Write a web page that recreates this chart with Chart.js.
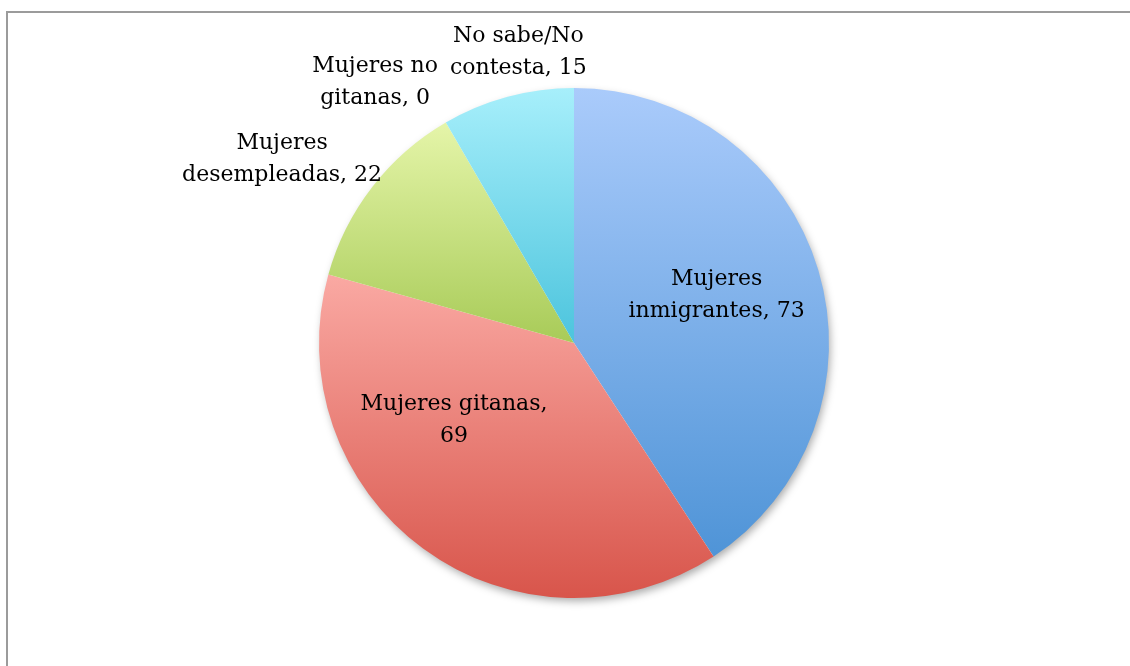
<!DOCTYPE html>
<html lang="es">
<head>
<meta charset="utf-8">
<title>Mujeres - gráfico circular</title>
<script src="https://cdn.jsdelivr.net/npm/chart.js@4/dist/chart.umd.min.js"></script>
<style>
    html, body { margin: 0; padding: 0; background: #fff; overflow: hidden; }
    #wrap { position: relative; width: 1130px; height: 666px; }
    #frame {
        position: absolute; left: 6px; top: 11px; width: 1300px; height: 800px;
        border-left: 2px solid #9b9b9b; border-top: 2px solid #9b9b9b;
    }
    canvas { position: absolute; left: 0; top: 0; }
</style>
</head>
<body>
<div id="wrap">
    <div id="frame"></div>
    <canvas id="pieChart" width="1130" height="666"></canvas>
</div>
<script>
// Datos del gráfico
const categories = ['Mujeres inmigrantes', 'Mujeres gitanas', 'Mujeres desempleadas', 'Mujeres no gitanas', 'No sabe/No contesta'];
const values = [73, 69, 22, 0, 15];

// Colores del degradado de cada sector (arriba / abajo)
const topColors = ['#aacbfb', '#faa9a3', '#e5f5a9', '#dddddd', '#a7effb'];
const bottomColors = ['#4f94d7', '#d8554b', '#a8cb58', '#aaaaaa', '#4cc4dd'];

function sumOf(arr) {
    return arr.reduce((s, v) => s + v, 0);
}

// Degradado vertical sobre el alto de cada sector
function sliceGradient(context) {
    const chart = context.chart;
    const area = chart.chartArea;
    const i = context.dataIndex;
    if (!area || i === undefined) return bottomColors[i] || '#ccc';

    const cx = (area.left + area.right) / 2;
    const cy = (area.top + area.bottom) / 2;
    const r = Math.min(area.width, area.height) / 2;
    const total = sumOf(values);
    const a0 = -Math.PI / 2 + sumOf(values.slice(0, i)) / total * 2 * Math.PI;
    const a1 = a0 + values[i] / total * 2 * Math.PI;

    const ys = [cy, cy + r * Math.sin(a0), cy + r * Math.sin(a1)];
    [Math.PI / 2, 3 * Math.PI / 2].forEach(k => {
        if (k > a0 && k < a1) ys.push(cy + r * Math.sin(k));
    });
    const y0 = Math.min(...ys);
    const y1 = Math.max(...ys);
    if (y1 - y0 < 1) return bottomColors[i];

    const g = chart.ctx.createLinearGradient(0, y0, 0, y1);
    g.addColorStop(0, topColors[i]);
    g.addColorStop(1, bottomColors[i]);
    return g;
}

// Partir texto en líneas según ancho máximo
function wrapText(ctx, text, maxWidth) {
    const words = text.split(' ');
    const lines = [];
    let line = '';
    words.forEach(w => {
        const test = line ? line + ' ' + w : w;
        if (line && ctx.measureText(test).width > maxWidth) {
            lines.push(line);
            line = w;
        } else {
            line = test;
        }
    });
    if (line) lines.push(line);
    return lines;
}

// Sombra suave bajo el círculo
const pieShadow = {
    id: 'pieShadow',
    beforeDatasetsDraw(chart) {
        const arc = chart.getDatasetMeta(0).data[0];
        if (!arc) return;
        const p = arc.getProps(['x', 'y', 'outerRadius'], true);
        const ctx = chart.ctx;
        ctx.save();
        ctx.shadowColor = 'rgba(0, 0, 0, 0.35)';
        ctx.shadowBlur = 8;
        ctx.shadowOffsetX = 2;
        ctx.shadowOffsetY = 4;
        ctx.fillStyle = '#ffffff';
        ctx.beginPath();
        ctx.arc(p.x, p.y, p.outerRadius - 1, 0, Math.PI * 2);
        ctx.fill();
        ctx.restore();
    }
};

// Etiquetas de datos (dentro o fuera del sector)
const pieLabels = {
    id: 'pieLabels',
    afterDatasetsDraw(chart, args, opts) {
        const ctx = chart.ctx;
        const meta = chart.getDatasetMeta(0);
        const total = sumOf(values);
        ctx.save();
        ctx.font = opts.font;
        ctx.fillStyle = opts.color;
        ctx.textAlign = 'center';
        ctx.textBaseline = 'middle';

        const boxes = meta.data.map((arc, i) => {
            const p = arc.getProps(['x', 'y', 'startAngle', 'endAngle', 'outerRadius'], true);
            const lines = wrapText(ctx, `${categories[i]}, ${values[i]}`, opts.maxWidth);
            const w = Math.max(...lines.map(l => ctx.measureText(l).width));
            const h = lines.length * opts.lineHeight;
            const mid = (p.startAngle + p.endAngle) / 2;

            if (values[i] / total >= opts.insideMin) {
                const a = mid + (opts.angleNudge[i] || 0) * Math.PI / 180;
                const rr = p.outerRadius * opts.insideRadius[i];
                return { x: p.x + Math.cos(a) * rr, y: p.y + Math.sin(a) * rr, w, h, lines, outside: false };
            }
            const dx = Math.cos(mid);
            const dy = Math.sin(mid);
            const ax = p.x + dx * (p.outerRadius + opts.gap);
            const ay = p.y + dy * (p.outerRadius + opts.gap);
            return { x: ax + dx * w / 2, y: ay + dy * h / 2, w, h, lines, outside: true };
        });

        // Separar etiquetas exteriores que se solapan
        const outer = boxes.filter(b => b.outside);
        for (let pass = 0; pass < 4; pass++) {
            for (let a = 0; a < outer.length; a++) {
                for (let b = a + 1; b < outer.length; b++) {
                    const A = outer[a], B = outer[b];
                    const ox = (A.w + B.w) / 2 + opts.pad - Math.abs(A.x - B.x);
                    const oy = (A.h + B.h) / 2 - Math.abs(A.y - B.y);
                    if (ox > 0 && oy > 0) {
                        const s = A.x >= B.x ? 1 : -1;
                        A.x += s * ox / 2;
                        B.x -= s * ox / 2;
                    }
                }
            }
        }

        boxes.forEach(b => {
            b.lines.forEach((l, j) => {
                ctx.fillText(l, b.x, b.y - b.h / 2 + opts.lineHeight * (j + 0.5));
            });
        });
        ctx.restore();
    }
};

function initPieChart() {
    const ctx = document.getElementById('pieChart');
    if (!ctx) return;

    new Chart(ctx.getContext('2d'), {
        type: 'pie',
        data: {
            labels: categories,
            datasets: [{
                data: values,
                backgroundColor: sliceGradient,
                borderWidth: 0
            }]
        },
        options: {
            responsive: false,
            animation: false,
            layout: {
                padding: { top: 88, bottom: 68, left: 319, right: 301 }
            },
            plugins: {
                legend: { display: false },
                tooltip: { enabled: false },
                pieLabels: {
                    font: '22px "DejaVu Serif"',
                    color: '#000',
                    lineHeight: 32,
                    maxWidth: 200,
                    insideMin: 0.2,
                    insideRadius: [0.59, 0.56, 0.6, 0.6, 0.6],
                    angleNudge: [-2, 21, 0, 0, 0],
                    gap: 14,
                    pad: 12
                }
            }
        },
        plugins: [pieShadow, pieLabels]
    });
}

initPieChart();
</script>
</body>
</html>
